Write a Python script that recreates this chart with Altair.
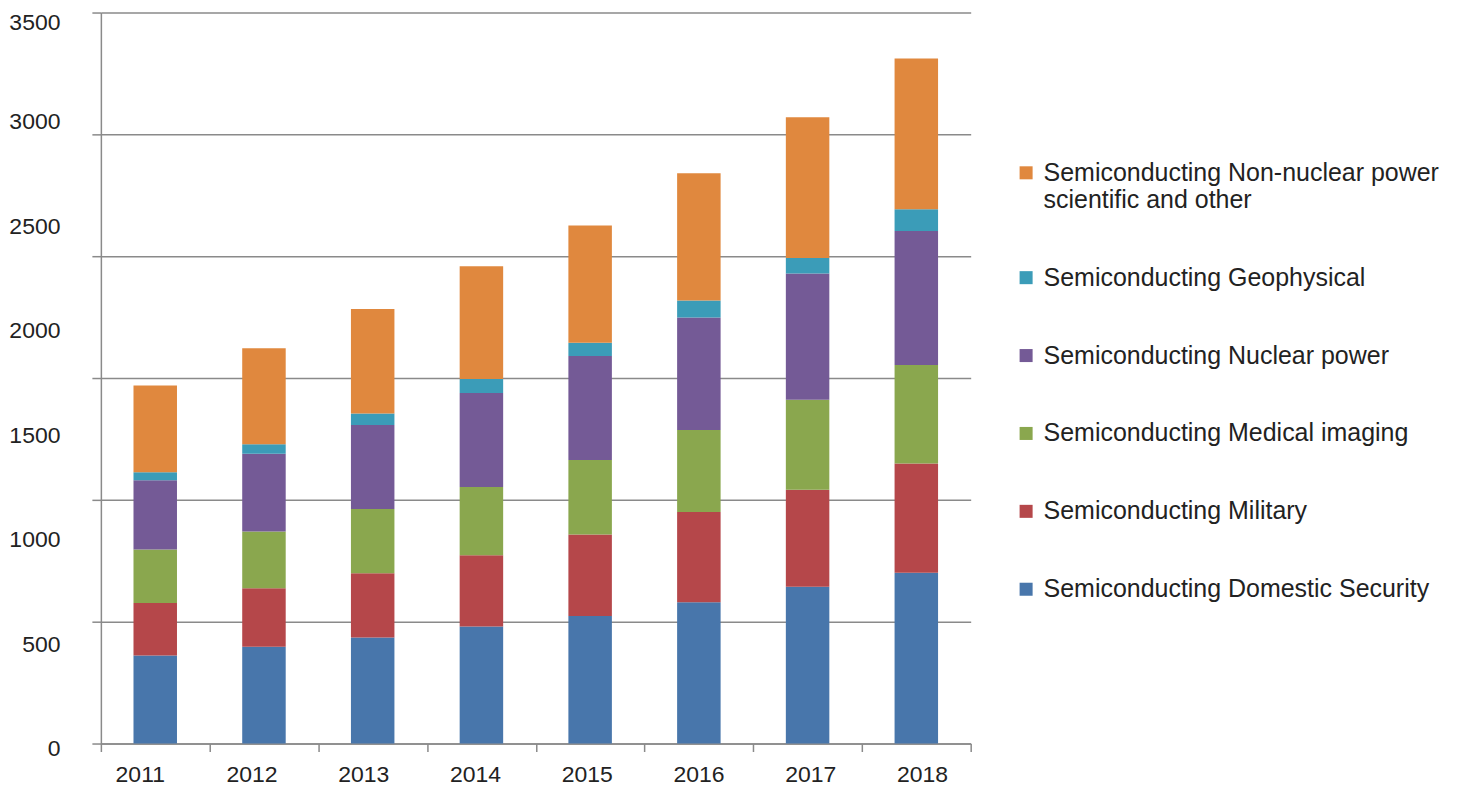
import altair as alt
import pandas as pd

years = ["2011", "2012", "2013", "2014", "2015", "2016", "2017", "2018"]

series_names = [
    "Semiconducting Domestic Security",
    "Semiconducting Military",
    "Semiconducting Medical imaging",
    "Semiconducting Nuclear power",
    "Semiconducting Geophysical",
    "Semiconducting Non-nuclear power scientific and other",
]
domestic = [421, 463, 508, 560, 611, 677, 751, 818]
military = [252, 281, 307, 342, 390, 431, 464, 523]
medical = [256, 271, 308, 326, 357, 393, 431, 471]
nuclear = [332, 372, 402, 450, 497, 539, 604, 642]
geophysical = [38, 46, 55, 67, 64, 81, 75, 104]
nonnuclear = [415, 460, 500, 540, 561, 609, 673, 722]

series_colors = ["#4876ab", "#b5474a", "#8aa74e", "#745a96", "#3b9cb8", "#e0883e"]

y_label_values = [0, 500, 1000, 1500, 2000, 2500, 3000, 3500]
y_grid_values = [0, 583.33, 1166.67, 1750, 2333.33, 2916.67, 3500]

all_series = [domestic, military, medical, nuclear, geophysical, nonnuclear]
rows = []
for k, (name, vals) in enumerate(zip(series_names, all_series)):
    for yr, v in zip(years, vals):
        rows.append({"year": yr, "series": name, "value": v, "stackorder": k})
df = pd.DataFrame(rows)

legend_order = list(reversed(series_names))
legend_colors = list(reversed(series_colors))

FONT = "Liberation Sans"
GRID = "#8a8a8a"
TEXT = "#222222"

long_name = series_names[-1]
label_expr = (
    f"datum.label == '{long_name}' ? "
    "['Semiconducting Non-nuclear power', 'scientific and other'] : datum.label"
)

# bars: full-step bands, bars 40% of the step
bar_xscale = alt.Scale(paddingInner=0, paddingOuter=0)
# year labels in the reference sit on a slightly wider spacing than the bars
label_xscale = alt.Scale(paddingInner=0, paddingOuter=0, range=[-16.5, 878.7])
yscale = alt.Scale(domain=[0, 3500], nice=False, zero=True)

bars = alt.Chart(df).mark_bar(width=alt.RelativeBandSize(0.4)).encode(
    x=alt.X(
        "year:N",
        sort=years,
        scale=bar_xscale,
        axis=alt.Axis(
            title=None,
            orient="bottom",
            tickBand="extent",
            ticks=True,
            tickSize=8,
            tickColor=GRID,
            tickWidth=1.5,
            domainColor=GRID,
            domainWidth=1.5,
            labels=False,
            grid=False,
        ),
    ),
    y=alt.Y(
        "value:Q",
        stack="zero",
        scale=yscale,
        axis=alt.Axis(
            title=None,
            orient="left",
            values=y_grid_values,
            grid=True,
            gridColor=GRID,
            gridWidth=1.5,
            ticks=True,
            tickSize=9,
            tickColor=GRID,
            tickWidth=1.5,
            domain=True,
            domainColor=GRID,
            domainWidth=1.5,
            labels=False,
        ),
    ),
    color=alt.Color(
        "series:N",
        scale=alt.Scale(domain=legend_order, range=legend_colors),
        legend=alt.Legend(
            title=None,
            orient="none",
            legendX=914,
            legendY=148,
            symbolType="square",
            symbolSize=170,
            symbolStrokeWidth=0,
            labelFont=FONT,
            labelFontSize=25,
            labelColor=TEXT,
            labelLimit=700,
            labelOffset=5,
            rowPadding=52,
            labelExpr=label_expr,
            padding=0,
        ),
    ),
    order=alt.Order("stackorder:Q", sort="ascending"),
)

label_layer = alt.Chart(df).mark_bar(opacity=0, width=alt.RelativeBandSize(0.4)).encode(
    x=alt.X(
        "year:N",
        sort=years,
        scale=label_xscale,
        axis=alt.Axis(
            title=None,
            orient="bottom",
            labelAngle=0,
            ticks=False,
            domain=False,
            grid=False,
            labelFont=FONT,
            labelFontSize=23,
            labelColor=TEXT,
            labelPadding=20,
        ),
    ),
    y=alt.Y(
        "value:Q",
        stack="zero",
        scale=yscale,
        axis=alt.Axis(
            title=None,
            orient="left",
            values=y_label_values,
            format="d",
            grid=False,
            ticks=False,
            domain=False,
            labelFont=FONT,
            labelFontSize=23,
            labelColor=TEXT,
            labelPadding=41,
            labelOffset={"condition": {"test": "datum.value == 3500", "value": 10}, "value": 5},
        ),
    ),
    order=alt.Order("stackorder:Q", sort="ascending"),
)

chart = (
    alt.layer(bars, label_layer)
    .resolve_scale(x="independent")
    .resolve_axis(x="independent", y="independent")
    .properties(
        width=871,
        height=732,
        padding={"left": 93, "top": 4, "right": 495, "bottom": 43},
        autosize=alt.AutoSizeParams(type="none"),
    )
    .configure_view(stroke="transparent", strokeWidth=0)
)

chart.save("out.html", embed_options={"renderer": "svg", "actions": False})
